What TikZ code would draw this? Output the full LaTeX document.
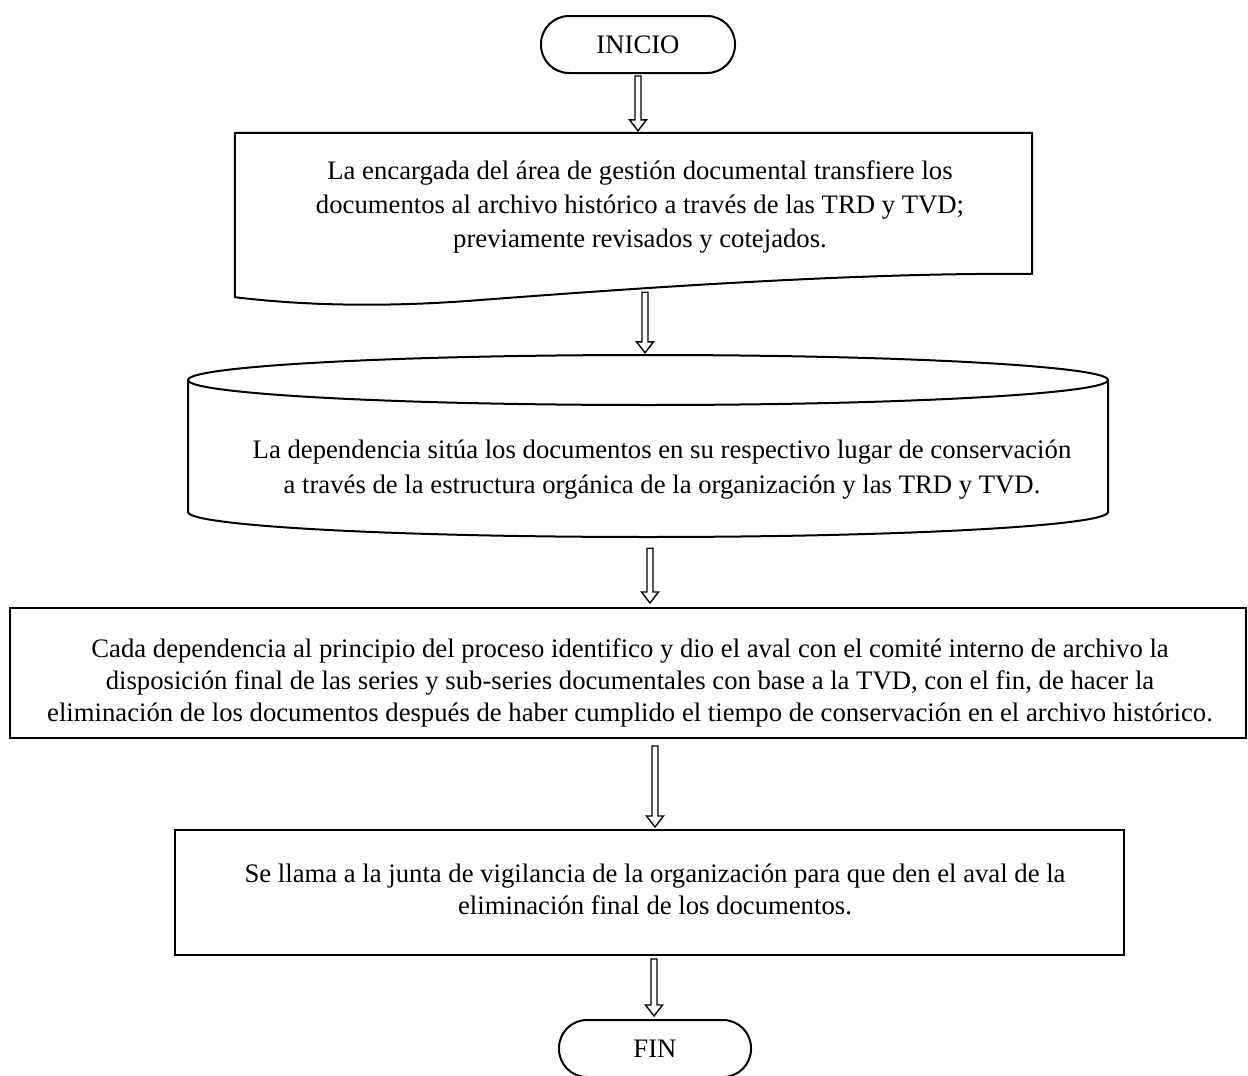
\documentclass[tikz,border=0pt]{standalone}
\usepackage{fontspec}
\setmainfont{Liberation Serif}
\usetikzlibrary{calc}
\begin{document}
\begin{tikzpicture}[x=1pt,y=-1pt,
  every node/.style={font=\fontsize{26.7}{33}\selectfont},
  terminal/.style={draw, line width=2pt, rounded corners=28pt, inner sep=0pt, minimum height=57pt},
  plainbox/.style={draw, line width=2pt, inner sep=0pt},
  area/.style={inner sep=0pt},
  label/.style={align=center, inner sep=0pt},
  tight/.style={font=\fontsize{26.7}{32}\selectfont},
  loose/.style={font=\fontsize{26.7}{35}\selectfont},
  outline/.style={line width=2pt, line join=round},
  % hollow block arrow pointing down from the start to the target height
  blockarrow/.style={draw, line width=1.4pt, line join=miter, to path={
    let \p1=(\tikztostart), \p2=(\tikztotarget) in
    (\x1-3pt,\y1) -- (\x1-3pt,\y2+11pt) -- (\x1-8.5pt,\y2+11pt) -- (\x1,\y2)
    -- (\x1+8.5pt,\y2+11pt) -- (\x1+3pt,\y2+11pt) -- (\x1+3pt,\y1) -- cycle}}
]
\useasboundingbox (0,0) rectangle (1248,1076);

% start terminal
\node[terminal, minimum width=194pt] (inicio) at (638,44.5) {INICIO};

% document shape with wavy bottom
\node[area, minimum width=797pt, minimum height=164pt] (doc) at (633.5,215) {};
\draw[outline] (doc.north west) -- (doc.north east) -- (1032,274)
  .. controls (850,272) and (600,291) .. (480,300)
  .. controls (380,308) and (300,305) .. (doc.south west) -- cycle;
\node[label, font=\fontsize{26.7}{34}\selectfont] (doctext) at (640,207) {La encargada del área de gestión documental transfiere los\\
documentos al archivo histórico a través de las TRD y TVD;\\
previamente revisados y cotejados.};

% storage cylinder
\node[area, minimum width=920pt, minimum height=182pt] (cyl) at (648,446) {};
\draw[outline] (648,380) ellipse [x radius=460pt, y radius=25pt];
\draw[outline] (188,380) -- (188,512)
  arc[start angle=180, end angle=360, x radius=460pt, y radius=25pt] -- (1108,380);
\node[label, loose] (cyltext) at (662,470) {La dependencia sitúa los documentos en su respectivo lugar de conservación\\
a través de la estructura orgánica de la organización y las TRD y TVD.};

% wide process box
\node[plainbox, minimum width=1236pt, minimum height=130pt] (box3) at (628,673) {};
\node[label, tight] (box3text) at (630,683) {Cada dependencia al principio del proceso identifico y dio el aval con el comité interno de archivo la\\
disposición final de las series y sub-series documentales con base a la TVD, con el fin, de hacer la\\
eliminación de los documentos después de haber cumplido el tiempo de conservación en el archivo histórico.};

% final process box
\node[plainbox, minimum width=949pt, minimum height=125pt] (box4) at (649.5,892.5) {};
\node[label, tight] (box4text) at (655,889) {Se llama a la junta de vigilancia de la organización para que den el aval de la\\
eliminación final de los documentos.};

% end terminal
\node[terminal, minimum width=192pt] (fin) at (655,1048.5) {FIN};

% connectors
\draw[blockarrow] ($(inicio.south)+(0,-2pt)$) to ($(doc.north)+(0,2pt)$);
\draw[blockarrow] ($(doc.south)+(11.5pt,5pt)$) to ($(cyl.north)+(0,2pt)$);
\draw[blockarrow] ($(cyl.south)+(2pt,-11pt)$) to ($(box3.north)+(0,4pt)$);
\draw[blockarrow] ($(box3.south)+(27pt,-7pt)$) to ($(box4.north)+(0,2pt)$);
\draw[blockarrow] ($(box4.south)+(4.5pt,-3pt)$) to ($(fin.north)+(0,3pt)$);
\end{tikzpicture}
\end{document}
